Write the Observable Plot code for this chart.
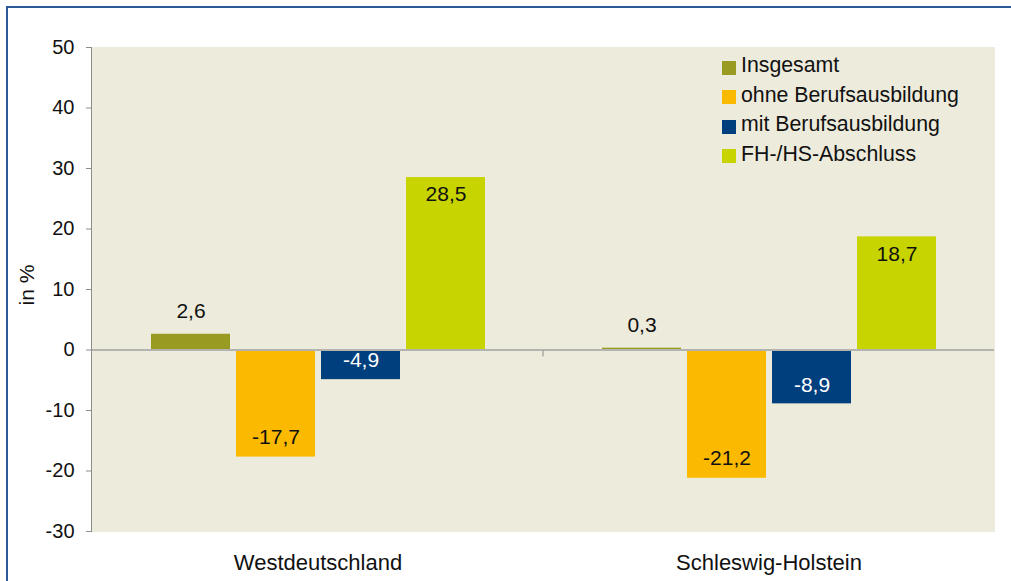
<!DOCTYPE html>
<html>
<head>
<meta charset="utf-8">
<script src="https://cdn.jsdelivr.net/npm/d3@7"></script>
<script src="https://cdn.jsdelivr.net/npm/@observablehq/plot@0.6"></script>
<style>
  html, body { margin: 0; padding: 0; background: #fff; overflow: hidden; }
  #wrap { position: relative; width: 1011px; height: 581px; font-family: "Liberation Sans", Arial, sans-serif; }
  #border { position: absolute; left: 6px; top: 6px; width: 1200px; height: 800px; border: 2px solid #2c5a96; box-sizing: border-box; pointer-events: none; }
  #legend { position: absolute; left: 722px; top: 51px; font-size: 21.3px; color: #111; }
  #legend .row { display: flex; align-items: center; height: 29.5px; }
  #legend .sw { width: 14px; height: 14px; margin-right: 5px; margin-top: 4px; }
  #ylab { position: absolute; left: 27px; top: 285px; transform: translate(-50%, -50%) rotate(-90deg); font-size: 21px; color: #111; white-space: nowrap; }
</style>
</head>
<body>
<div id="wrap">
  <div id="chart"></div>
  <div id="ylab">in %</div>
  <div id="legend"></div>
  <div id="border"></div>
</div>
<script>
const regions = ["Westdeutschland", "Schleswig-Holstein"];
const series = ["Insgesamt", "ohne Berufsausbildung", "mit Berufsausbildung", "FH-/HS-Abschluss"];
const colors = ["#989a22", "#fbba00", "#003f7d", "#c8d400"];
const westValues = [2.6, -17.7, -4.9, 28.5];
const shValues = [0.3, -21.2, -8.9, 18.7];
const yTicks = [-30, -20, -10, 0, 10, 20, 30, 40, 50];

const data = [];
series.forEach((s, i) => {
  data.push({region: regions[0], series: s, value: westValues[i]});
  data.push({region: regions[1], series: s, value: shValues[i]});
});
const fmt = d => d3.format(".1f")(d.value).replace(".", ",").replace("−", "-");
const font = "Liberation Sans, Arial, sans-serif";

const plot = Plot.plot({
  width: 1011,
  height: 581,
  marginLeft: 91,
  marginRight: 17,
  marginTop: 47,
  marginBottom: 50,
  style: {fontFamily: font, fontSize: "20px", color: "#111", background: "transparent"},
  fx: {domain: regions, padding: 0, label: null},
  x: {domain: series, paddingInner: 0.076, paddingOuter: 0.678, axis: null},
  y: {domain: [-30, 50], label: null},
  color: {domain: series, range: colors},
  marks: [
    Plot.frame({fill: "#edebdb", stroke: "#edebdb", strokeWidth: 1}),
    Plot.barY(data, {fx: "region", x: "series", y: "value", fill: "series"}),
    Plot.ruleY([0], {stroke: "#b3b3b0", strokeWidth: 2}),
    Plot.axisY({ticks: yTicks, tickSize: 6, tickPadding: 12, stroke: "#8c8c8c", tickFormat: d => String(d), fontSize: 20, fill: "#111"}),
    Plot.axisFx({anchor: "bottom", tickSize: 0, tickPadding: 23, fontSize: 22, fill: "#111", label: null}),
    Plot.text(data.filter(d => d.series === series[0]), {fx: "region", x: "series", y: "value", text: fmt, dy: -23, fill: "#111", fontSize: 21, lineAnchor: "middle"}),
    Plot.text(data.filter(d => d.series === series[3]), {fx: "region", x: "series", y: "value", text: fmt, dy: 17, fill: "#111", fontSize: 21, lineAnchor: "middle"}),
    Plot.text(data.filter(d => d.series === series[1]), {fx: "region", x: "series", y: "value", text: fmt, dy: -20, fill: "#111", fontSize: 21, lineAnchor: "middle"}),
    Plot.text(data.filter(d => d.series === series[2]), {fx: "region", x: "series", y: "value", text: fmt, dy: -19, fill: "#ffffff", fontSize: 21, lineAnchor: "middle"})
  ]
});
document.getElementById("chart").appendChild(plot);

// y-axis line and category divider tick drawn from the library's scales
const fxS = plot.scale("fx");
const yS = plot.scale("y");
const svg = d3.select(plot);
const x0 = fxS.apply(regions[0]);
svg.append("line").attr("x1", x0 - 0.5).attr("x2", x0 - 0.5)
  .attr("y1", yS.apply(50)).attr("y2", yS.apply(-30)).attr("stroke", "#8c8c8c");
const xb = fxS.apply(regions[1]);
svg.append("line").attr("x1", xb).attr("x2", xb)
  .attr("y1", yS.apply(0) + 1).attr("y2", yS.apply(0) + 7).attr("stroke", "#8c8c8c");

const leg = d3.select("#legend");
series.forEach((s, i) => {
  const r = leg.append("div").attr("class", "row");
  r.append("div").attr("class", "sw").style("background", colors[i]);
  r.append("span").text(s);
});
</script>
</body>
</html>
